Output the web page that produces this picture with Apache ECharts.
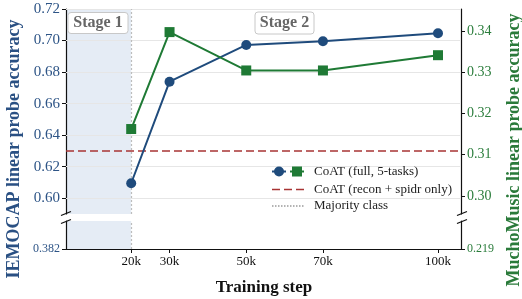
<!DOCTYPE html>
<html>
<head>
<meta charset="utf-8">
<script src="https://cdn.jsdelivr.net/npm/echarts@6/dist/echarts.min.js"></script>
<style>
    html, body { margin: 0; padding: 0; background: #fff; }
    #chart { width: 522px; height: 299px; }
</style>
</head>
<body>
<div id="chart"></div>
<script>
// training steps (k) and probe accuracies
const steps = [20, 30, 50, 70, 100]
const iemocap = [0.6095, 0.6739, 0.6972, 0.6995, 0.7046]
const mucho = [0.3162, 0.3397, 0.3304, 0.3304, 0.3341]
const reconOnly = 0.6293 // CoAT (recon + spidr only), left axis
const majorityIemocap = 0.382
const majorityMucho = 0.219
const stageSwitch = 20 // end of stage 1

const iemocapTicks = [0.60, 0.62, 0.64, 0.66, 0.68, 0.70, 0.72]
const muchoTicks = [0.30, 0.31, 0.32, 0.33, 0.34]
const stepTicks = [20, 30, 50, 70, 100]

const FONT = 'Liberation Serif'
const BLUE = '#1f4b7c'
const GREEN = '#1f7a35'
const BLUE_TXT = '#2d5486'
const GREEN_TXT = '#2b7d3c'
const X_MIN = 3
const X_MAX = 106

let chart = echarts.init(document.getElementById('chart'), null, { renderer: 'canvas' })

const axisLine = { show: true, onZero: false, lineStyle: { color: '#111', width: 1.2 } }
const tick = (vals) => ({ show: true, customValues: vals, length: 4, lineStyle: { color: '#111', width: 1 } })
const label = (vals, color, size, digits) => ({
    customValues: vals,
    color: color,
    fontFamily: FONT,
    fontSize: size,
    margin: 6,
    formatter: v => v.toFixed(digits)
})

const dotted20 = { xAxis: stageSwitch, lineStyle: { color: '#bdbdbd', type: [2, 2], width: 1.2 } }

let options = {
    animation: false,
    grid: [
        { left: 66, right: 61, top: 9, height: 205 },
        { left: 66, right: 61, top: 221, height: 28 }
    ],
    xAxis: [
        { gridIndex: 0, type: 'value', min: X_MIN, max: X_MAX, position: 'top',
          axisLine: axisLine, axisTick: { show: false }, axisLabel: { show: false }, splitLine: { show: false } },
        { gridIndex: 1, type: 'value', min: X_MIN, max: X_MAX, position: 'bottom',
          axisLine: axisLine, axisTick: tick(stepTicks),
          axisLabel: { customValues: stepTicks, color: '#111', fontFamily: FONT, fontSize: 13, margin: 6, formatter: v => v + 'k' },
          splitLine: { show: false } }
    ],
    yAxis: [
        { gridIndex: 0, type: 'value', position: 'left', min: 0.59, max: 0.72,
          axisLine: axisLine, axisTick: tick(iemocapTicks), axisLabel: label(iemocapTicks, BLUE_TXT, 15, 2), splitLine: { show: false } },
        { gridIndex: 0, type: 'value', position: 'right', min: 0.2956, max: 0.3453,
          axisLine: axisLine, axisTick: tick(muchoTicks), axisLabel: label(muchoTicks, GREEN_TXT, 14, 2), splitLine: { show: false } },
        { gridIndex: 1, type: 'value', position: 'left', min: majorityIemocap, max: 0.40,
          axisLine: axisLine, axisTick: tick([majorityIemocap]), axisLabel: label([majorityIemocap], BLUE_TXT, 12, 3), splitLine: { show: false } },
        { gridIndex: 1, type: 'value', position: 'right', min: majorityMucho, max: 0.23,
          axisLine: axisLine, axisTick: tick([majorityMucho]), axisLabel: label([majorityMucho], GREEN_TXT, 12, 3), splitLine: { show: false } }
    ],
    series: [
        // stage 1 shading + grid lines (upper)
        {
            type: 'line', xAxisIndex: 0, yAxisIndex: 0, data: [], silent: true,
            markArea: { silent: true, z: 0, itemStyle: { color: '#e5ecf5' },
                data: [[{ xAxis: X_MIN }, { xAxis: stageSwitch }]] },
            markLine: { silent: true, z: 1, symbol: 'none', label: { show: false },
                lineStyle: { color: '#e6e6e6', type: 'solid', width: 1 },
                data: iemocapTicks.map(v => ({ yAxis: v })) }
        },
        // stage divider + recon-only baseline (upper)
        {
            type: 'line', xAxisIndex: 0, yAxisIndex: 0, data: [], silent: true,
            markLine: { silent: true, z: 2, symbol: 'none', label: { show: false },
                data: [
                    dotted20,
                    { yAxis: reconOnly, lineStyle: { color: '#a83434', type: [8, 4], width: 1.6 } }
                ] }
        },
        // lower panel: shading, divider, majority class
        {
            type: 'line', xAxisIndex: 1, yAxisIndex: 2, data: [], silent: true,
            markArea: { silent: true, z: 0, itemStyle: { color: '#e5ecf5' },
                data: [[{ xAxis: X_MIN }, { xAxis: stageSwitch }]] },
            markLine: { silent: true, z: 2, symbol: 'none', label: { show: false },
                data: [
                    dotted20,
                    { yAxis: majorityIemocap, lineStyle: { color: '#9a9a9a', type: [1.5, 1.5], width: 1.5 } }
                ] }
        },
        {
            name: 'IEMOCAP', type: 'line', xAxisIndex: 0, yAxisIndex: 0, z: 4,
            data: steps.map((s, i) => [s, iemocap[i]]),
            symbol: 'circle', symbolSize: 10,
            itemStyle: { color: BLUE }, lineStyle: { color: BLUE, width: 2 }
        },
        {
            name: 'MuchoMusic', type: 'line', xAxisIndex: 0, yAxisIndex: 1, z: 4,
            data: steps.map((s, i) => [s, mucho[i]]),
            symbol: 'rect', symbolSize: 10,
            itemStyle: { color: GREEN }, lineStyle: { color: GREEN, width: 2 }
        }
    ],
    graphic: [
        // stage labels
        { type: 'rect', shape: { x: 68, y: 12.5, width: 60, height: 21, r: 3 }, style: { fill: '#fff', stroke: '#c8c8c8', lineWidth: 1 }, z: 10 },
        { type: 'text', x: 98, y: 23, z: 11, style: { text: 'Stage 1', font: 'bold 16px "Liberation Serif"', fill: '#666', align: 'center', verticalAlign: 'middle' } },
        { type: 'rect', shape: { x: 255, y: 12, width: 59, height: 22, r: 3 }, style: { fill: '#fff', stroke: '#c8c8c8', lineWidth: 1 }, z: 10 },
        { type: 'text', x: 284.5, y: 23, z: 11, style: { text: 'Stage 2', font: 'bold 16px "Liberation Serif"', fill: '#666', align: 'center', verticalAlign: 'middle' } },
        // axis break marks
        { type: 'line', shape: { x1: 61, y1: 215.5, x2: 71, y2: 211.5 }, style: { stroke: '#111', lineWidth: 1.2 }, z: 10 },
        { type: 'line', shape: { x1: 61, y1: 223.5, x2: 71, y2: 219.5 }, style: { stroke: '#111', lineWidth: 1.2 }, z: 10 },
        { type: 'line', shape: { x1: 457, y1: 215.5, x2: 467, y2: 211.5 }, style: { stroke: '#111', lineWidth: 1.2 }, z: 10 },
        { type: 'line', shape: { x1: 457, y1: 223.5, x2: 467, y2: 219.5 }, style: { stroke: '#111', lineWidth: 1.2 }, z: 10 },
        // legend
        { type: 'line', shape: { x1: 272, y1: 171.5, x2: 286, y2: 171.5 }, style: { stroke: BLUE, lineWidth: 2 }, z: 10 },
        { type: 'circle', shape: { cx: 279, cy: 171.5, r: 5 }, style: { fill: BLUE }, z: 10 },
        { type: 'line', shape: { x1: 290, y1: 171.5, x2: 304, y2: 171.5 }, style: { stroke: GREEN, lineWidth: 2 }, z: 10 },
        { type: 'rect', shape: { x: 292, y: 166.5, width: 10, height: 10 }, style: { fill: GREEN }, z: 10 },
        { type: 'text', x: 314, y: 172, z: 10, style: { text: 'CoAT (full, 5-tasks)', font: '13px "Liberation Serif"', fill: '#222', verticalAlign: 'middle' } },
        { type: 'line', shape: { x1: 272, y1: 189.5, x2: 304, y2: 189.5 }, style: { stroke: '#a83434', lineWidth: 1.6, lineDash: [8, 4] }, z: 10 },
        { type: 'text', x: 314, y: 189.5, z: 10, style: { text: 'CoAT (recon + spidr only)', font: '13px "Liberation Serif"', fill: '#222', verticalAlign: 'middle' } },
        { type: 'line', shape: { x1: 272, y1: 206, x2: 304, y2: 206 }, style: { stroke: '#9a9a9a', lineWidth: 1.5, lineDash: [1.5, 1.5] }, z: 10 },
        { type: 'text', x: 314, y: 206, z: 10, style: { text: 'Majority class', font: '13px "Liberation Serif"', fill: '#222', verticalAlign: 'middle' } },
        // axis titles
        { type: 'text', x: 14, y: 149, rotation: Math.PI / 2, z: 10, style: { text: 'IEMOCAP linear probe accuracy', font: 'bold 18px "Liberation Serif"', fill: '#2a5083', align: 'center', verticalAlign: 'middle' } },
        { type: 'text', x: 514, y: 150, rotation: Math.PI / 2, z: 10, style: { text: 'MuchoMusic linear probe accuracy', font: 'bold 18px "Liberation Serif"', fill: '#2a7a3a', align: 'center', verticalAlign: 'middle' } },
        { type: 'text', x: 264, y: 288, z: 10, style: { text: 'Training step', font: 'bold 17px "Liberation Serif"', fill: '#111', align: 'center', verticalAlign: 'middle' } }
    ]
}

chart.setOption(options)
</script>
</body>
</html>
